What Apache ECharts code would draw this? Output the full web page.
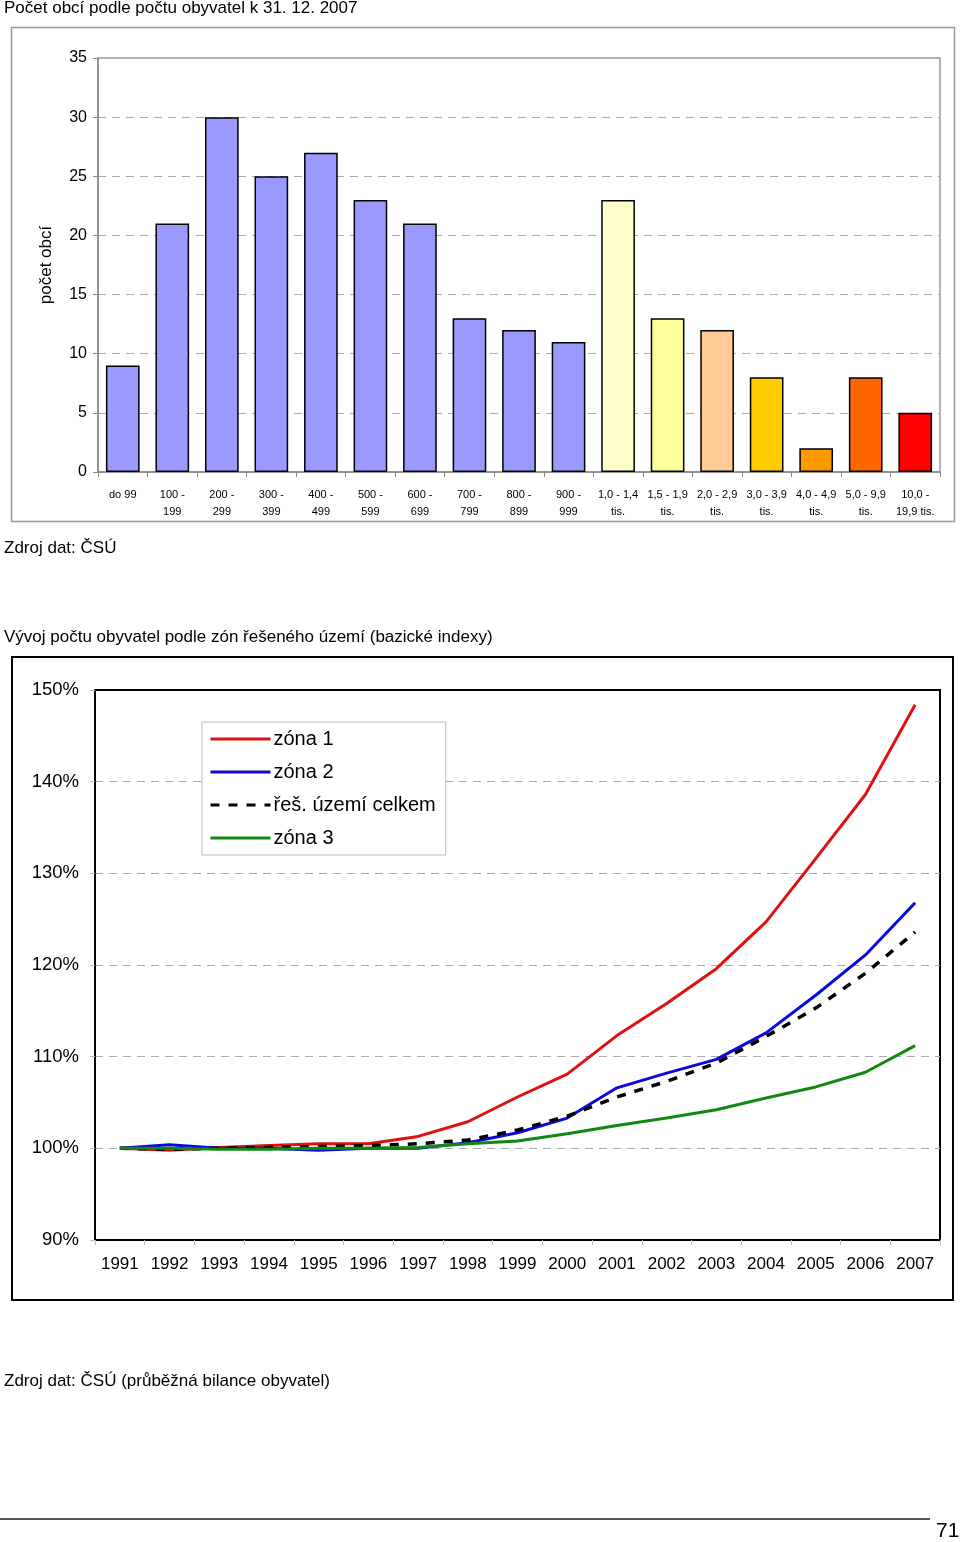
<!DOCTYPE html>
<html><head><meta charset="utf-8">
<script src="https://cdn.jsdelivr.net/npm/echarts@6/dist/echarts.min.js"></script>
<style>html,body{margin:0;padding:0;background:#fff}#c{width:960px;height:1542px}</style>
</head><body><div id="c"></div>
<script>
// ---- Chart 1 data ----
const sizeCategories = ['do 99','100 -\n199','200 -\n299','300 -\n399','400 -\n499','500 -\n599','600 -\n699','700 -\n799','800 -\n899','900 -\n999','1,0 - 1,4\ntis.','1,5 - 1,9\ntis.','2,0 - 2,9\ntis.','3,0 - 3,9\ntis.','4,0 - 4,9\ntis.','5,0 - 9,9\ntis.','10,0 -\n19,9 tis.'];
const municipalityCounts = [9, 21, 30, 25, 27, 23, 21, 13, 12, 11, 23, 13, 12, 8, 2, 8, 5];
const barColors = ['#9999FF','#9999FF','#9999FF','#9999FF','#9999FF','#9999FF','#9999FF','#9999FF','#9999FF','#9999FF','#FFFFCC','#FFFF99','#FFCC99','#FFCC00','#FF9900','#FF6600','#FF0000'];

// ---- Chart 2 data ----
const years = ['1991','1992','1993','1994','1995','1996','1997','1998','1999','2000','2001','2002','2003','2004','2005','2006','2007'];
const zona1 = [100, 99.8, 100.1, 100.3, 100.5, 100.5, 101.3, 102.9, 105.6, 108.1, 112.3, 115.8, 119.6, 124.7, 131.6, 138.6, 148.4];
const zona2 = [100, 100.4, 100, 100, 99.8, 100, 100, 100.6, 101.7, 103.3, 106.6, 108.2, 109.7, 112.6, 116.7, 121.1, 126.8];
const celkem = [100, 99.9, 100, 100.1, 100.2, 100.3, 100.5, 100.9, 102.0, 103.5, 105.6, 107.3, 109.3, 112.2, 115.3, 119.1, 123.6];
const zona3 = [100, 100, 99.9, 99.9, 100, 100, 100.1, 100.5, 100.8, 101.6, 102.5, 103.3, 104.2, 105.5, 106.7, 108.3, 111.2];

const FONT = 'Liberation Sans, Arial, sans-serif';
const chart = echarts.init(document.getElementById('c'), null, {renderer: 'canvas'});

const barData = municipalityCounts.map((v, i) => ({
  value: v,
  itemStyle: {color: barColors[i]}
}));

function txt(text, x, y, size, extra) {
  return Object.assign({
    type: 'text', z: 100,
    style: {text: text, x: x, y: y, fontSize: size, fontFamily: FONT, fill: '#000', verticalAlign: 'middle'}
  }, extra || {});
}

chart.setOption({
  animation: false,
  textStyle: {fontFamily: FONT},
  grid: [
    {left: 98, top: 58, width: 842, height: 414, show: true, borderColor: '#999', borderWidth: 1.5, containLabel: false},
    {left: 95, top: 690, width: 845, height: 550, show: true, borderColor: '#000', borderWidth: 2, containLabel: false}
  ],
  xAxis: [
    {
      gridIndex: 0, type: 'category', data: sizeCategories,
      axisLine: {lineStyle: {color: '#888', width: 1.5}},
      axisTick: {show: true, length: 5, lineStyle: {color: '#888'}},
      axisLabel: {color: '#000', fontSize: 11, lineHeight: 17, margin: 14, interval: 0, fontFamily: FONT}
    },
    {
      gridIndex: 1, type: 'category', data: years,
      axisLine: {lineStyle: {color: '#000', width: 2}},
      axisTick: {show: true, length: 5, lineStyle: {color: '#bbb'}},
      axisLabel: {color: '#000', fontSize: 17, margin: 16, interval: 0, fontFamily: FONT}
    }
  ],
  yAxis: [
    {
      gridIndex: 0, type: 'value', min: 0, max: 35, interval: 5,
      name: 'počet obcí', nameLocation: 'middle', nameGap: 43, nameRotate: 90,
      nameTextStyle: {fontSize: 17, color: '#000', fontFamily: FONT},
      axisLine: {show: true, lineStyle: {color: '#888', width: 1.5}},
      axisTick: {show: true, length: 5, lineStyle: {color: '#888'}},
      axisLabel: {color: '#000', fontSize: 16, margin: 11, fontFamily: FONT},
      splitLine: {show: true, showMaxLine: false, showMinLine: false, lineStyle: {color: '#aaa', type: [8, 6], width: 1}}
    },
    {
      gridIndex: 1, type: 'value', min: 90, max: 150, interval: 10,
      axisLine: {show: true, lineStyle: {color: '#000', width: 2}},
      axisTick: {show: true, length: 5, lineStyle: {color: '#bbb'}},
      axisLabel: {color: '#000', fontSize: 18.5, margin: 16, formatter: '{value}%', fontFamily: FONT},
      splitLine: {show: true, showMaxLine: false, showMinLine: false, lineStyle: {color: '#aaa', type: [8, 6], width: 1}}
    }
  ],
  legend: {
    show: true,
    data: ['zóna 1', 'zóna 2', 'řeš. území celkem', 'zóna 3'],
    orient: 'vertical', left: 202, top: 722,
    padding: [7, 10, 7, 7],
    borderColor: '#bbb', borderWidth: 1, backgroundColor: '#fff',
    itemWidth: 60, itemHeight: 14, itemGap: 13,
    itemStyle: {opacity: 0},
    lineStyle: {width: 3},
    textStyle: {fontSize: 20, color: '#000', fontFamily: FONT, padding: [0, 0, 0, -2]}
  },
  series: [
    {
      type: 'bar', xAxisIndex: 0, yAxisIndex: 0, data: barData,
      barCategoryGap: '32%',
      itemStyle: {borderColor: '#000', borderWidth: 1.5},
      z: 3
    },
    {
      name: 'zóna 1', type: 'line', xAxisIndex: 1, yAxisIndex: 1, data: zona1,
      symbol: 'none', color: '#E01010', lineStyle: {color: '#E01010', width: 3}
    },
    {
      name: 'zóna 2', type: 'line', xAxisIndex: 1, yAxisIndex: 1, data: zona2,
      symbol: 'none', color: '#0A0ADD', lineStyle: {color: '#0A0ADD', width: 3}
    },
    {
      name: 'řeš. území celkem', type: 'line', xAxisIndex: 1, yAxisIndex: 1, data: celkem,
      symbol: 'none', color: '#000', lineStyle: {color: '#000', width: 3.5, type: [9, 9]}
    },
    {
      name: 'zóna 3', type: 'line', xAxisIndex: 1, yAxisIndex: 1, data: zona3,
      symbol: 'none', color: '#118811', lineStyle: {color: '#118811', width: 3}
    }
  ],
  graphic: [
    {type: 'rect', shape: {x: 11.5, y: 27.5, width: 943, height: 494}, style: {fill: 'none', stroke: '#999', lineWidth: 1.5}, z: 0},
    {type: 'rect', shape: {x: 12, y: 657, width: 941, height: 643}, style: {fill: 'none', stroke: '#000', lineWidth: 2}, z: 0},
    {type: 'line', shape: {x1: 0, y1: 1519, x2: 930, y2: 1519}, style: {stroke: '#555', lineWidth: 2}},
    txt('Počet obcí podle počtu obyvatel k 31. 12. 2007', 4, 8, 17),
    txt('Zdroj dat: ČSÚ', 4, 548, 17),
    txt('Vývoj počtu obyvatel podle zón řešeného území (bazické indexy)', 4, 637, 17),
    txt('Zdroj dat: ČSÚ (průběžná bilance obyvatel)', 4, 1381, 17),
    txt('71', 936, 1531, 21)
  ]
});
</script></body></html>
